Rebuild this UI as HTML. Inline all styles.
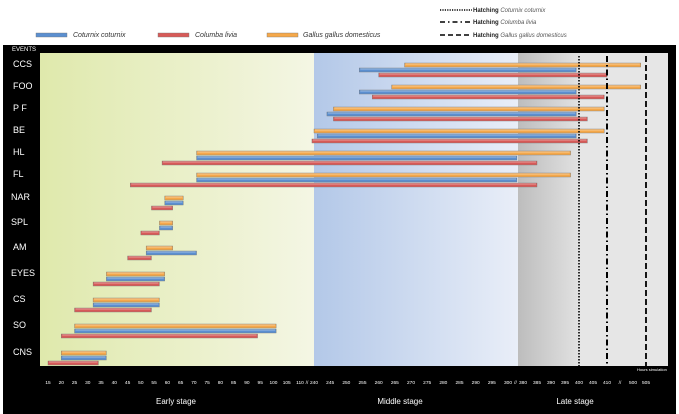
<!DOCTYPE html>
<html><head><meta charset="utf-8"><style>
body{margin:0;background:#fff;font-family:"Liberation Sans",sans-serif}
svg{display:block}
</style></head><body>
<svg id="c" width="679" height="414" xmlns="http://www.w3.org/2000/svg">
<defs>
<linearGradient id="gy" x1="0" x2="1"><stop offset="0" stop-color="#dfe9ac"/><stop offset="1" stop-color="#f4f6e4"/></linearGradient>
<linearGradient id="gb" x1="0" x2="1"><stop offset="0" stop-color="#b3c8e8"/><stop offset="1" stop-color="#e9eef8"/></linearGradient>
<linearGradient id="gg" x1="0" x2="1"><stop offset="0" stop-color="#bdbdbd"/><stop offset="1" stop-color="#e2e2e2"/></linearGradient>
</defs>
<rect x="3" y="45" width="673" height="369" fill="#000"/>
<rect x="40" y="53" width="274" height="313" fill="url(#gy)"/>
<rect x="314" y="53" width="204" height="313" fill="url(#gb)"/>
<rect x="518" y="53" width="62" height="313" fill="url(#gg)"/>
<rect x="580" y="53" width="88" height="313" fill="#e6e6e6"/>
<text x="12" y="51" font-size="6" fill="#fff">EVENTS</text>
<g id="legend"></g>
<g id="bars"></g>
<g id="xt"></g>
<text x="637" y="371" font-size="4" fill="#fff">Hours simulation</text>
<text x="176" y="404" font-size="8" fill="#fff" text-anchor="middle">Early stage</text>
<text x="400" y="404" font-size="8" fill="#fff" text-anchor="middle">Middle stage</text>
<text x="575" y="404" font-size="8" fill="#fff" text-anchor="middle">Late stage</text>
</svg>
<script>
const events=["CCS","FOO","P F","BE","HL","FL","NAR","SPL","AM","EYES","CS","SO","CNS"];
const series=["Coturnix coturnix","Columba livia","Gallus gallus domesticus"];
const gallusStart=[268,264,246,240,71,71,59,57,52,37,32,25,20];
const gallusEnd=[503,503,409,409,397,397,66,62,62,59,57,101,37];
const coturnixStart=[254,254,244,241,71,71,59,57,52,37,32,25,20];
const coturnixEnd=[399,399,399,399,348,348,66,62,71,59,57,101,37];
const columbaStart=[260,258,246,221,58,46,54,50,45,32,25,20,15];
const columbaEnd=[410,409,403,403,385,385,62,57,54,57,54,94,34];
const hatchCoturnix=400, hatchColumba=410, hatchGallus=505;
const tickLabels=["15","20","25","30","35","40","45","50","55","60","65","70","75","80","85","90","95","100","105","110","//","240","245","250","255","260","265","270","275","280","285","290","295","300","//","380","385","390","395","400","405","410","//","500","505"];
const segs=[[15,48],[110,300],[240,314],[300,508],[380,523],[410,607],[500,633],[505,646]];
function xs(h){
  for(let i=0;i<segs.length-1;i++){const a=segs[i],b=segs[i+1];
    if(h<=b[0]||i===segs.length-2){return a[1]+(h-a[0])*(b[1]-a[1])/(b[0]-a[0]);}}
}
const rowY=[64,86,108,130,152,174,197,222,247,273,299,325,352];
const NS="http://www.w3.org/2000/svg";
function mk(t,at,p){const e=document.createElementNS(NS,t);for(const k in at)e.setAttribute(k,at[k]);(p||document.getElementById('c')).appendChild(e);return e;}
const bars=document.getElementById('bars');
const cols={g:"#f5a84a",c:"#5b8fd0",r:"#d75a58"};
function bar(s,e,y,col,name){
  const g=mk('g',{},bars);
  
  
  const x1=xs(s),x2=xs(e);
  mk('rect',{x:x1,y:y-2,width:x2-x1,height:4,fill:col,stroke:"#777","stroke-width":0.4},g);
  mk('rect',{x:x1+1,y:y-1.6,width:Math.max(0,x2-x1-2),height:1.2,fill:"#fff",opacity:0.35},g);
}
events.forEach((ev,i)=>{
  const y=rowY[i];
  const t=mk('text',{x:(ev==="EYES"||ev==="NAR"||ev==="SPL")?11:13,y:y+3,"font-size":9,fill:"#fff"});
  t.textContent=ev;
  
  
  bar(gallusStart[i],gallusEnd[i],y+1,cols.g,'bar-gallus-'+i);
  bar(coturnixStart[i],coturnixEnd[i],y+6,cols.c,'bar-coturnix-'+i);
  bar(columbaStart[i],columbaEnd[i],y+11,cols.r,'bar-columba-'+i);
});
const hl=[[hatchCoturnix,"1.5,1.5",1.6,'hatch-line-coturnix'],[hatchColumba,"6,3,1.5,3",2,'hatch-line-columba'],[hatchGallus,"6,3",1.8,'hatch-line-gallus']];
hl.forEach(h=>{const l=mk('line',{x1:xs(h[0]),x2:xs(h[0]),y1:56,y2:366,stroke:"#000","stroke-width":h[2],"stroke-dasharray":h[1]});
  
  });
const xt=document.getElementById('xt');
const tickPos=tickLabels.map(lab=>lab==="//"?null:xs(+lab));
tickLabels.forEach((lab,i)=>{
  let x=tickPos[i];
  if(x===null)x=(tickPos[i-1]+tickPos[i+1])/2;
  const t=mk('text',{x:x,y:384,"font-size":4.8,fill:"#fff","text-anchor":"middle"},xt);
  t.textContent=lab;
  
  
});
const lg=document.getElementById('legend');
const legItems=[[36,73,cols.c,series[0]],[158,195,cols.r,series[1]],[267,303,cols.g,series[2]]];
legItems.forEach((L,i)=>{
  const g=mk('g',{},lg);
  
  
  mk('rect',{x:L[0],y:33,width:31,height:4,fill:L[2],stroke:"#777","stroke-width":0.4},g);
  const t=mk('text',{x:L[1],y:37,"font-size":7,"font-style":"italic",fill:"#333"},g);t.textContent=L[3];
});
const hLeg=[[10,"1.2,1.2",series[0]],[22,"5,3,1.5,3",series[1]],[35,"5,3",series[2]]];
hLeg.forEach((H,i)=>{
  const g=mk('g',{},lg);
  
  
  mk('line',{x1:440,x2:472,y1:H[0],y2:H[0],stroke:"#000","stroke-width":1.6,"stroke-dasharray":H[1]},g);
  const t=mk('text',{x:473,y:H[0]+2,"font-size":6,fill:"#222"},g);
  const a=document.createElementNS(NS,'tspan');a.setAttribute('font-weight','bold');a.textContent='Hatching ';t.appendChild(a);
  const b=document.createElementNS(NS,'tspan');b.setAttribute('font-style','italic');b.setAttribute('fill','#555');b.textContent=H[2];t.appendChild(b);
});
</script>
</body></html>
